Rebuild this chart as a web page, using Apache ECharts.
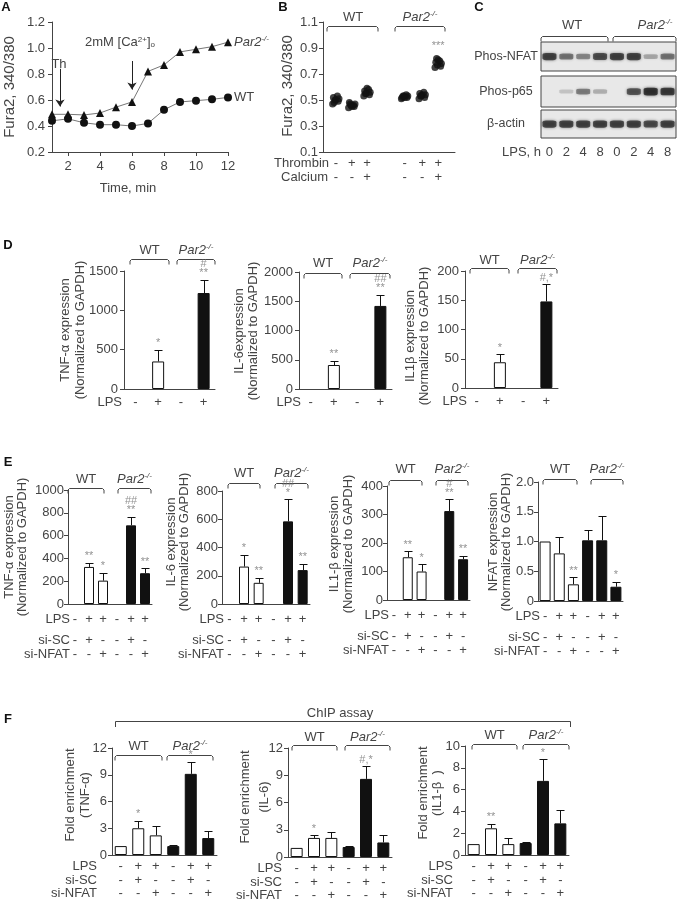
<!DOCTYPE html>
<html>
<head>
<meta charset="utf-8">
<script src="https://cdn.jsdelivr.net/npm/echarts@6.0.0/dist/echarts.min.js"></script>
<style>
html, body { margin: 0; padding: 0; background: #fff; }
#chart { width: 677px; height: 900px; }
</style>
</head>
<body>
<div id="chart"></div>
<script>
// ---------- data ----------
// A: Fura2 ratio over time
const timeMin = [1, 2, 3, 4, 5, 6, 7, 8, 9, 10, 11, 12];
const furaWT = [0.44, 0.455, 0.425, 0.41, 0.41, 0.40, 0.42, 0.525, 0.585, 0.595, 0.605, 0.62];
const furaPar2 = [0.49, 0.49, 0.485, 0.50, 0.545, 0.585, 0.82, 0.87, 0.97, 0.99, 1.01, 1.045];
const aXTicks = [2, 4, 6, 8, 10, 12];

// B: Fura2 ratio per condition (individual cells)
const bGroups = [
  [0.47, 0.49, 0.50, 0.51, 0.52, 0.53, 0.50, 0.48],
  [0.44, 0.45, 0.46, 0.47, 0.48, 0.46, 0.45, 0.47],
  [0.53, 0.54, 0.55, 0.56, 0.57, 0.58, 0.59, 0.55],
  [0.51, 0.52, 0.53, 0.53, 0.52, 0.54, 0.52, 0.53],
  [0.51, 0.52, 0.53, 0.54, 0.55, 0.56, 0.54, 0.53],
  [0.75, 0.76, 0.77, 0.78, 0.79, 0.80, 0.81, 0.82]
];
const bPos = [0.8, 1.8, 2.75, 5.1, 6.2, 7.2];
const bJitter = [-0.2, 0.15, -0.05, 0.2, -0.15, 0.1, 0.0, -0.1];
const bYTicks = [0.1, 0.3, 0.5, 0.7, 0.9, 1.1];
const bThrombin = ['-', '+', '+', '-', '+', '+'];
const bCalcium = ['-', '-', '+', '-', '-', '+'];
const bNotes = ['', '', '', '', '', '***'];

// C: western blot band intensities (0..1)
const lanes = ['0', '2', '4', '8', '0', '2', '4', '8'];
const bandNFAT = [0.85, 0.6, 0.5, 0.8, 0.85, 0.85, 0.35, 0.6];
const bandP65 = [0, 0.2, 0.55, 0.3, 0, 0.75, 0.95, 0.9];
const bandActin = [0.85, 0.85, 0.85, 0.85, 0.85, 0.85, 0.8, 0.85];

// D: cytokine expression
const dGeno = ['WT', 'WT', 'KO', 'KO'];
const dLPS = ['-', '+', '-', '+'];
const dTNF = [0, 350, 0, 1220], dTNFerr = [0, 150, 0, 170], dTNFnote = ['', '*', '', '#\n**'];
const dIL6 = [0, 410, 0, 1420], dIL6err = [0, 70, 0, 190], dIL6note = ['', '**', '', '##\n**'];
const dIL1b = [0, 44, 0, 148], dIL1berr = [0, 14, 0, 29], dIL1bnote = ['', '*', '', '#,*'];

// E: siRNA knockdown
const eGeno = ['WT', 'WT', 'WT', 'KO', 'KO', 'KO'];
const eLPS = ['-', '+', '+', '-', '+', '+'];
const eSiSC = ['-', '+', '-', '-', '+', '-'];
const eSiNFAT = ['-', '-', '+', '-', '-', '+'];
const eTNF = [0, 325, 205, 0, 690, 270], eTNFerr = [0, 35, 70, 0, 75, 45], eTNFnote = ['', '**', '*', '', '##\n**', '**'];
const eIL6 = [0, 265, 150, 0, 585, 240], eIL6err = [0, 85, 35, 0, 155, 45], eIL6note = ['', '*', '**', '', '##\n*', '**'];
const eIL1b = [0, 150, 100, 0, 312, 143], eIL1berr = [0, 22, 25, 0, 42, 12], eIL1bnote = ['', '**', '*', '', '#\n**', '**'];
const eNFAT = [1.0, 0.8, 0.28, 1.02, 1.02, 0.24], eNFATerr = [0, 0.28, 0.12, 0.17, 0.41, 0.08], eNFATnote = ['', '', '**', '', '', '*'];

// F: ChIP assay
const fTNF = [1.0, 3.0, 2.2, 1.0, 9.1, 1.9], fTNFerr = [0, 0.85, 1.1, 0.1, 1.35, 0.8], fTNFnote = ['', '*', '', '', '*', ''];
const fIL6 = [1.0, 2.1, 2.1, 1.1, 8.6, 1.6], fIL6err = [0, 0.3, 0.7, 0.15, 1.4, 0.85], fIL6note = ['', '*', '', '', '#,*', ''];
const fIL1b = [1.0, 2.45, 1.0, 1.1, 6.8, 2.9], fIL1berr = [0, 0.4, 0.55, 0.1, 2.0, 1.2], fIL1bnote = ['', '**', '', '', '*', ''];

// ---------- helpers ----------
const FONT = '"Liberation Sans", Arial, sans-serif';
const TXT = '#444';
const AX = '#444';

const grid = [], xAxis = [], yAxis = [], series = [], graphic = [];

function addGrid(g) {
  grid.push(Object.assign({ containLabel: false, outerBoundsMode: 'none' }, g));
  return grid.length - 1;
}

function T(x, y, text, st, rot) {
  graphic.push({
    type: 'text', x: x, y: y, rotation: rot || 0, silent: true,
    style: Object.assign({ text: text, fill: TXT, fontSize: 13, fontFamily: FONT, align: 'center', verticalAlign: 'middle' }, st || {})
  });
}

const P2RICH = {
  i: { fontStyle: 'italic', fontSize: 13, fontFamily: FONT, fill: TXT, lineHeight: 14 },
  s: { fontStyle: 'italic', fontSize: 8, fontFamily: FONT, fill: TXT, verticalAlign: 'top' }
};
function par2(x, y) { T(x, y, '{i|Par2}{s|-/-}', { rich: P2RICH }); }

function bracket(x1, x2, y) {
  y = Math.round(y) + 0.5;
  graphic.push({
    type: 'polyline', silent: true,
    shape: { points: [[x1, y + 5], [x1, y + 1.5], [x1 + 1.5, y], [x2 - 1.5, y], [x2, y + 1.5], [x2, y + 5]] },
    style: { stroke: AX, lineWidth: 1, fill: null }
  });
}

const axisText = { color: TXT, fontSize: 13, fontFamily: FONT };

function errItem(params, api) {
  const k = api.value(0), lo = api.value(1), hi = api.value(2);
  const p0 = api.coord([k, lo]), p1 = api.coord([k, hi]);
  const x = Math.round(p0[0]) + 0.5, yt = Math.round(p1[1]) + 0.5;
  return {
    type: 'group', children: [
      { type: 'line', shape: { x1: x, y1: p0[1], x2: x, y2: yt }, style: { stroke: '#111', lineWidth: 1 } },
      { type: 'line', shape: { x1: x - 4, y1: yt, x2: x + 4, y2: yt }, style: { stroke: '#111', lineWidth: 1 } }
    ]
  };
}

function barChart(s) {
  const gi = addGrid({ left: s.left, top: s.top, width: s.right - s.left, height: s.bottom - s.top });
  const rich = {};
  s.lh.forEach((h, i) => { rich['r' + i] = { lineHeight: h, fontSize: 13, color: TXT, fontFamily: FONT }; });
  xAxis.push({
    gridIndex: gi, type: 'category', data: s.vals.map((_, k) => String(k)),
    axisLine: { lineStyle: { color: AX } }, axisTick: { show: false },
    axisLabel: { interval: 0, margin: s.m, formatter: v => s.rows.map((r, i) => '{r' + i + '|' + r[+v] + '}').join('\n'), rich: rich }
  });
  const xi = xAxis.length - 1;
  yAxis.push({
    gridIndex: gi, type: 'value', min: 0, max: s.max, interval: s.interval,
    axisLine: { show: true, lineStyle: { color: AX } },
    axisTick: { show: true, length: 4, lineStyle: { color: AX } },
    axisLabel: Object.assign({ margin: s.lm || 5, formatter: s.fmt || (v => String(v)) }, axisText),
    splitLine: { show: false }
  });
  const yi = yAxis.length - 1;
  series.push({
    type: 'bar', xAxisIndex: xi, yAxisIndex: yi, barWidth: s.barW, silent: true,
    data: s.vals.map((v, k) => ({
      value: v,
      itemStyle: { color: s.geno[k] === 'WT' ? '#fff' : '#111', borderColor: '#111', borderWidth: v ? 1 : 0 }
    }))
  });
  series.push({
    type: 'custom', xAxisIndex: xi, yAxisIndex: yi, silent: true, renderItem: errItem,
    encode: { x: 0, y: [1, 2] },
    data: s.vals.map((v, k) => [k, v, v + s.errs[k]]).filter((d, k) => s.errs[k] > 0)
  });
  series.push({
    type: 'scatter', xAxisIndex: xi, yAxisIndex: yi, silent: true, symbolSize: 0,
    data: s.notes.map((n, k) => n ? { value: [k, s.vals[k] + s.errs[k]], name: n } : null).filter(Boolean),
    label: { show: true, position: 'top', distance: 2, formatter: '{b}', color: '#777', fontSize: 11, lineHeight: 9, fontFamily: FONT }
  });
  // row titles
  let acc = s.bottom + s.m;
  s.rowNames.forEach((nm, i) => {
    T(s.titleX, acc + s.lh[i] / 2, nm, { align: 'right' });
    acc += s.lh[i];
  });
  // y-axis titles
  T(s.nx[0], s.ny, s.names[0], {}, Math.PI / 2);
  T(s.nx[1], s.ny, s.names[1], {}, Math.PI / 2);
  // genotype brackets
  bracket(s.br.wt[0], s.br.wt[1], s.br.y);
  bracket(s.br.ko[0], s.br.ko[1], s.br.y);
  T((s.br.wt[0] + s.br.wt[1]) / 2, s.br.ty, 'WT');
  par2((s.br.ko[0] + s.br.ko[1]) / 2, s.br.ty);
}

// ---------- panel A ----------
{
  const gi = addGrid({ left: 52, top: 22, width: 176, height: 130 });
  xAxis.push({
    gridIndex: gi, type: 'value', min: 1, max: 12,
    axisLine: { lineStyle: { color: AX } },
    axisTick: { show: true, customValues: aXTicks, length: 4, lineStyle: { color: AX } },
    axisLabel: Object.assign({ customValues: aXTicks, margin: 8 }, axisText),
    splitLine: { show: false }
  });
  yAxis.push({
    gridIndex: gi, type: 'value', min: 0.2, max: 1.2, interval: 0.2,
    axisLine: { show: true, lineStyle: { color: AX } },
    axisTick: { show: true, length: 4, lineStyle: { color: AX } },
    axisLabel: Object.assign({ margin: 7, formatter: v => v.toFixed(1) }, axisText),
    splitLine: { show: false }
  });
  const xi = xAxis.length - 1, yi = yAxis.length - 1;
  series.push({
    type: 'line', xAxisIndex: xi, yAxisIndex: yi, silent: true,
    data: timeMin.map((t, i) => [t, furaPar2[i]]),
    symbol: 'triangle', symbolSize: 8, itemStyle: { color: '#111' }, lineStyle: { color: '#777', width: 1 },
    endLabel: {
      show: true, distance: 6, formatter: '{i|Par2}{s|-/-}',
      rich: {
        i: { fontStyle: 'italic', fontSize: 13, color: TXT, fontFamily: FONT, lineHeight: 14 },
        s: { fontStyle: 'italic', fontSize: 8, color: TXT, fontFamily: FONT, verticalAlign: 'top' }
      }
    },
    markLine: {
      silent: true, symbol: ['none', 'arrow'], symbolSize: 7,
      lineStyle: { color: '#222', type: 'solid', width: 1 }, label: { show: false },
      data: [
        [{ coord: [1.5, 0.84] }, { coord: [1.5, 0.55] }],
        [{ coord: [6, 0.9] }, { coord: [6, 0.68] }]
      ]
    }
  });
  series.push({
    type: 'line', xAxisIndex: xi, yAxisIndex: yi, silent: true,
    data: timeMin.map((t, i) => [t, furaWT[i]]),
    symbol: 'circle', symbolSize: 8, itemStyle: { color: '#111' }, lineStyle: { color: '#777', width: 1 },
    endLabel: { show: true, distance: 6, formatter: 'WT', color: TXT, fontSize: 13, fontFamily: FONT }
  });
  T(59, 64, 'Th');
  T(120, 42, '2mM [Ca{s|2+}]{b|o}', {
    rich: {
      s: { fontSize: 8, fontFamily: FONT, fill: TXT, verticalAlign: 'top' },
      b: { fontSize: 8, fontFamily: FONT, fill: TXT, verticalAlign: 'bottom' }
    }
  });
  T(10, 87, 'Fura2, 340/380', { fontSize: 15 }, Math.PI / 2);
  T(128, 188, 'Time, min');
}

// ---------- panel B ----------
{
  const gi = addGrid({ left: 323, top: 22, width: 132, height: 130 });
  xAxis.push({
    gridIndex: gi, type: 'value', min: 0, max: 8.25,
    axisLine: { lineStyle: { color: AX } }, axisTick: { show: false },
    axisLabel: {
      customValues: bPos, margin: 4,
      formatter: v => { const k = bPos.indexOf(v); return '{r|' + bThrombin[k] + '}\n{r|' + bCalcium[k] + '}'; },
      rich: { r: { lineHeight: 14, fontSize: 13, color: TXT, fontFamily: FONT } }
    },
    splitLine: { show: false }
  });
  yAxis.push({
    gridIndex: gi, type: 'value', min: 0.1, max: 1.1,
    axisLine: { show: true, lineStyle: { color: AX } },
    axisTick: { show: true, customValues: bYTicks, length: 4, lineStyle: { color: AX } },
    axisLabel: Object.assign({ customValues: bYTicks, margin: 5, formatter: v => v.toFixed(1) }, axisText),
    splitLine: { show: false }
  });
  const xi = xAxis.length - 1, yi = yAxis.length - 1;
  const pts = [];
  bGroups.forEach((g, gIdx) => g.forEach((v, j) => pts.push([bPos[gIdx] + bJitter[j], v])));
  series.push({
    type: 'scatter', xAxisIndex: xi, yAxisIndex: yi, silent: true,
    data: pts, symbolSize: 7, itemStyle: { color: '#111' }
  });
  series.push({
    type: 'scatter', xAxisIndex: xi, yAxisIndex: yi, silent: true, symbolSize: 0,
    data: bNotes.map((n, k) => n ? { value: [bPos[k], Math.max.apply(null, bGroups[k])], name: n } : null).filter(Boolean),
    label: { show: true, position: 'top', distance: 7, formatter: '{b}', color: '#777', fontSize: 11, fontFamily: FONT }
  });
  T(288, 86, 'Fura2, 340/380', { fontSize: 15 }, Math.PI / 2);
  T(329, 163, 'Thrombin', { align: 'right' });
  T(328, 177, 'Calcium', { align: 'right' });
  bracket(327, 378, 26);
  bracket(395, 445, 26);
  T(353, 17, 'WT');
  par2(420, 17);
}

// ---------- panel C ----------
{
  const rows = [
    { top: 42, h: 29, data: bandNFAT, name: 'Phos-NFAT' },
    { top: 76, h: 31, data: bandP65, name: 'Phos-p65' },
    { top: 110, h: 28, data: bandActin, name: 'β-actin' }
  ];
  rows.forEach((r, ri) => {
    const gi = addGrid({ left: 541, top: r.top, width: 135, height: r.h, show: true, backgroundColor: '#e8e8e8', borderColor: '#444', borderWidth: 1 });
    const last = ri === rows.length - 1;
    xAxis.push({
      gridIndex: gi, type: 'category', data: lanes.map((_, k) => String(k)),
      show: last, axisLine: { show: false }, axisTick: { show: false },
      axisLabel: Object.assign({ margin: 8, formatter: v => lanes[+v] }, axisText)
    });
    yAxis.push({ gridIndex: gi, type: 'category', data: ['b'], show: false });
    series.push({
      type: 'scatter', xAxisIndex: xAxis.length - 1, yAxisIndex: yAxis.length - 1, silent: true,
      symbol: 'roundRect',
      data: r.data.map((a, k) => a > 0 ? {
        value: [k, 0], symbolSize: [14, 3 + 5 * a],
        itemStyle: { color: 'rgba(25,25,25,' + a + ')', shadowBlur: 3, shadowColor: 'rgba(0,0,0,' + (a * 0.8) + ')' }
      } : null).filter(Boolean)
    });
    T(506, r.top + r.h / 2, r.name, { fontSize: 12.5 });
  });
  T(541, 152, 'LPS, h', { align: 'right' });
  bracket(541, 608, 36);
  bracket(613, 676, 36);
  T(572, 25, 'WT');
  par2(655, 25);
}

// ---------- panel D ----------
const D_COMMON = { geno: dGeno, rows: [dLPS], rowNames: ['LPS'], lh: [14], m: 6, barW: 12, lm: 6 };
barChart(Object.assign({}, D_COMMON, {
  left: 124, top: 271, right: 215, bottom: 389, max: 1500, interval: 500,
  vals: dTNF, errs: dTNFerr, notes: dTNFnote, titleX: 122,
  names: ['TNF-α expression', '(Normalized to GAPDH)'], nx: [65, 80], ny: 330,
  br: { wt: [130, 169], ko: [177, 215], y: 259, ty: 250 }
}));
barChart(Object.assign({}, D_COMMON, {
  left: 299, top: 272, right: 392, bottom: 389, max: 2000, interval: 500,
  vals: dIL6, errs: dIL6err, notes: dIL6note, titleX: 301,
  names: ['IL-6expression', '(Normalized to GAPDH)'], nx: [239, 253], ny: 331,
  br: { wt: [304, 342], ko: [350, 390], y: 273, ty: 263 }
}));
barChart(Object.assign({}, D_COMMON, {
  left: 465, top: 271, right: 558, bottom: 388, max: 200, interval: 50,
  vals: dIL1b, errs: dIL1berr, notes: dIL1bnote, titleX: 467,
  names: ['IL1β expression', '(Normalized to GAPDH)'], nx: [410, 424], ny: 336,
  br: { wt: [470, 509], ko: [518, 557], y: 268, ty: 260 }
}));

// ---------- panel E ----------
const E_COMMON = { geno: eGeno, rows: [eLPS, eSiSC, eSiNFAT], rowNames: ['LPS', 'si-SC', 'si-NFAT'], lh: [28, 14, 14], m: 1, barW: 10, lm: 4 };
barChart(Object.assign({}, E_COMMON, {
  left: 68, top: 490, right: 152, bottom: 604, max: 1000, interval: 200,
  vals: eTNF, errs: eTNFerr, notes: eTNFnote, titleX: 70,
  names: ['TNF-α expression', '(Normalized to GAPDH)'], nx: [9, 22], ny: 547,
  br: { wt: [68, 104], ko: [118, 151], y: 488, ty: 479 }
}));
barChart(Object.assign({}, E_COMMON, {
  left: 222, top: 491, right: 310, bottom: 604, max: 800, interval: 200,
  vals: eIL6, errs: eIL6err, notes: eIL6note, titleX: 224,
  names: ['IL-6 expression', '(Normalized to GAPDH)'], nx: [171, 184], ny: 542,
  br: { wt: [228, 260], ko: [275, 308], y: 483, ty: 473 }
}));
barChart(Object.assign({}, E_COMMON, {
  left: 387, top: 486, right: 470, bottom: 600, max: 400, interval: 100,
  vals: eIL1b, errs: eIL1berr, notes: eIL1bnote, titleX: 389,
  names: ['IL1-β expression', '(Normalized to GAPDH)'], nx: [334, 348], ny: 544,
  br: { wt: [389, 422], ko: [436, 468], y: 480, ty: 469 }
}));
barChart(Object.assign({}, E_COMMON, {
  left: 538, top: 482, right: 623, bottom: 601, max: 2, interval: 0.5, barW: 11,
  fmt: v => v === 0 ? '0' : v.toFixed(1),
  vals: eNFAT, errs: eNFATerr, notes: eNFATnote, titleX: 540,
  names: ['NFAT expression', '(Normalized to GAPDH)'], nx: [493, 506], ny: 542,
  br: { wt: [543, 577], ko: [591, 623], y: 479, ty: 469 }
}));

// ---------- panel F ----------
const F_COMMON = { geno: eGeno, rows: [eLPS, eSiSC, eSiNFAT], rowNames: ['LPS', 'si-SC', 'si-NFAT'], lh: [13.5, 13.5, 13.5], m: 5, barW: 12, lm: 5 };
barChart(Object.assign({}, F_COMMON, {
  left: 112, top: 748, right: 217, bottom: 855, max: 12, interval: 3,
  vals: fTNF, errs: fTNFerr, notes: fTNFnote, titleX: 97,
  names: ['Fold enrichment', '(TNF-α)'], nx: [70, 85], ny: 795,
  br: { wt: [115, 162], ko: [167, 213], y: 755, ty: 746 }
}));
barChart(Object.assign({}, F_COMMON, {
  left: 288, top: 748, right: 392, bottom: 857, max: 12, interval: 3,
  vals: fIL6, errs: fIL6err, notes: fIL6note, titleX: 282,
  names: ['Fold enrichment', '(IL-6)'], nx: [245, 264], ny: 797,
  br: { wt: [292, 337], ko: [345, 390], y: 745, ty: 737 }
}));
barChart(Object.assign({}, F_COMMON, {
  left: 465, top: 746, right: 569, bottom: 855, max: 10, interval: 2,
  vals: fIL1b, errs: fIL1berr, notes: fIL1bnote, titleX: 453,
  names: ['Fold enrichment', '(IL1-β  )'], nx: [423, 437], ny: 793,
  br: { wt: [472, 517], ko: [523, 569], y: 744, ty: 735 }
}));

// ChIP assay bracket over F
graphic.push({
  type: 'polyline', silent: true,
  shape: { points: [[115.5, 727], [115.5, 721.5], [570.5, 721.5], [570.5, 727]] },
  style: { stroke: AX, lineWidth: 1, fill: null }
});
T(340, 713, 'ChIP assay');

// panel letters
[['A', 6, 7], ['B', 283, 7], ['C', 479, 7], ['D', 8, 245], ['E', 8, 462], ['F', 8, 719]].forEach(p => {
  T(p[1], p[2], p[0], { fontWeight: 'bold', fontSize: 13, fill: '#111' });
});

const chart = echarts.init(document.getElementById('chart'), null, { renderer: 'canvas' });
chart.setOption({
  backgroundColor: '#ffffff',
  animation: false,
  textStyle: { fontFamily: FONT },
  grid: grid,
  xAxis: xAxis,
  yAxis: yAxis,
  series: series,
  graphic: graphic
});
</script>
</body>
</html>
